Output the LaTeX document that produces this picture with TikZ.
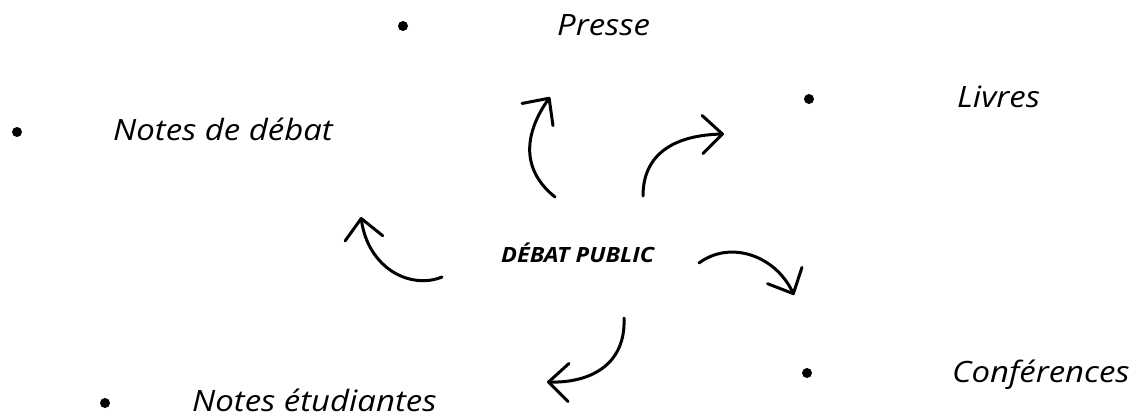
\documentclass[tikz,border=0pt]{standalone}
\usepackage{fontspec}
\setmainfont{Open Sans}[FakeStretch=1.12]
\usetikzlibrary{arrows.meta}
\tikzset{
  bullet/.style={circle,fill=black,inner sep=0pt,minimum size=10pt},
  label/.style={anchor=base west,inner sep=0pt,font=\fontsize{29.4}{32}\selectfont\itshape},
  center/.style={anchor=base west,inner sep=0pt,font=\fontsize{21}{24}\selectfont\bfseries\itshape},
  curvearrow/.style={line width=3pt,line cap=round,line join=round,-{Straight Barb[length=20pt,width=38pt,round]}}
}
\begin{document}
\begin{tikzpicture}[x=1pt,y=-1pt]
\useasboundingbox[fill=white] (0,0) rectangle (1143,416);
% bullets
\node[bullet] (bp) at (403,26) {};
\node[bullet] (bl) at (809,99) {};
\node[bullet] (bn) at (17,132) {};
\node[bullet] (bc) at (807,373) {};
\node[bullet] (be) at (105,403) {};
% labels
\node[label] (presse) at (557,35) {Presse};
\node[label] (livres) at (957,107) {Livres};
\node[label] (notesd) at (113,140) {Notes de débat};
\node[label] (conf) at (952,382) {Conférences};
\node[label] (notese) at (192,411) {Notes étudiantes};
\node[center] (dp) at (501,262) {DÉBAT PUBLIC};
% arrow end points
\coordinate (p0) at (555,197); \coordinate (p1) at (550,97);
\coordinate (l0) at (643,196); \coordinate (l1) at (724,134);
\coordinate (c0) at (699,263); \coordinate (c1) at (794,295);
\coordinate (e0) at (624,318); \coordinate (e1) at (547,382);
\coordinate (n0) at (442,277); \coordinate (n1) at (361,217);
% arrows
\draw[curvearrow] (p0) .. controls (515,165) and (530,125) .. (p1);
\draw[curvearrow] (l0) .. controls (643,150) and (680,135) .. (l1);
\draw[curvearrow] (c0) .. controls (730,240) and (775,255) .. (c1);
\draw[curvearrow] (e0) .. controls (626,365) and (590,383) .. (e1);
\draw[curvearrow] (n0) .. controls (410,290) and (368,268) .. (n1);
\end{tikzpicture}
\end{document}
